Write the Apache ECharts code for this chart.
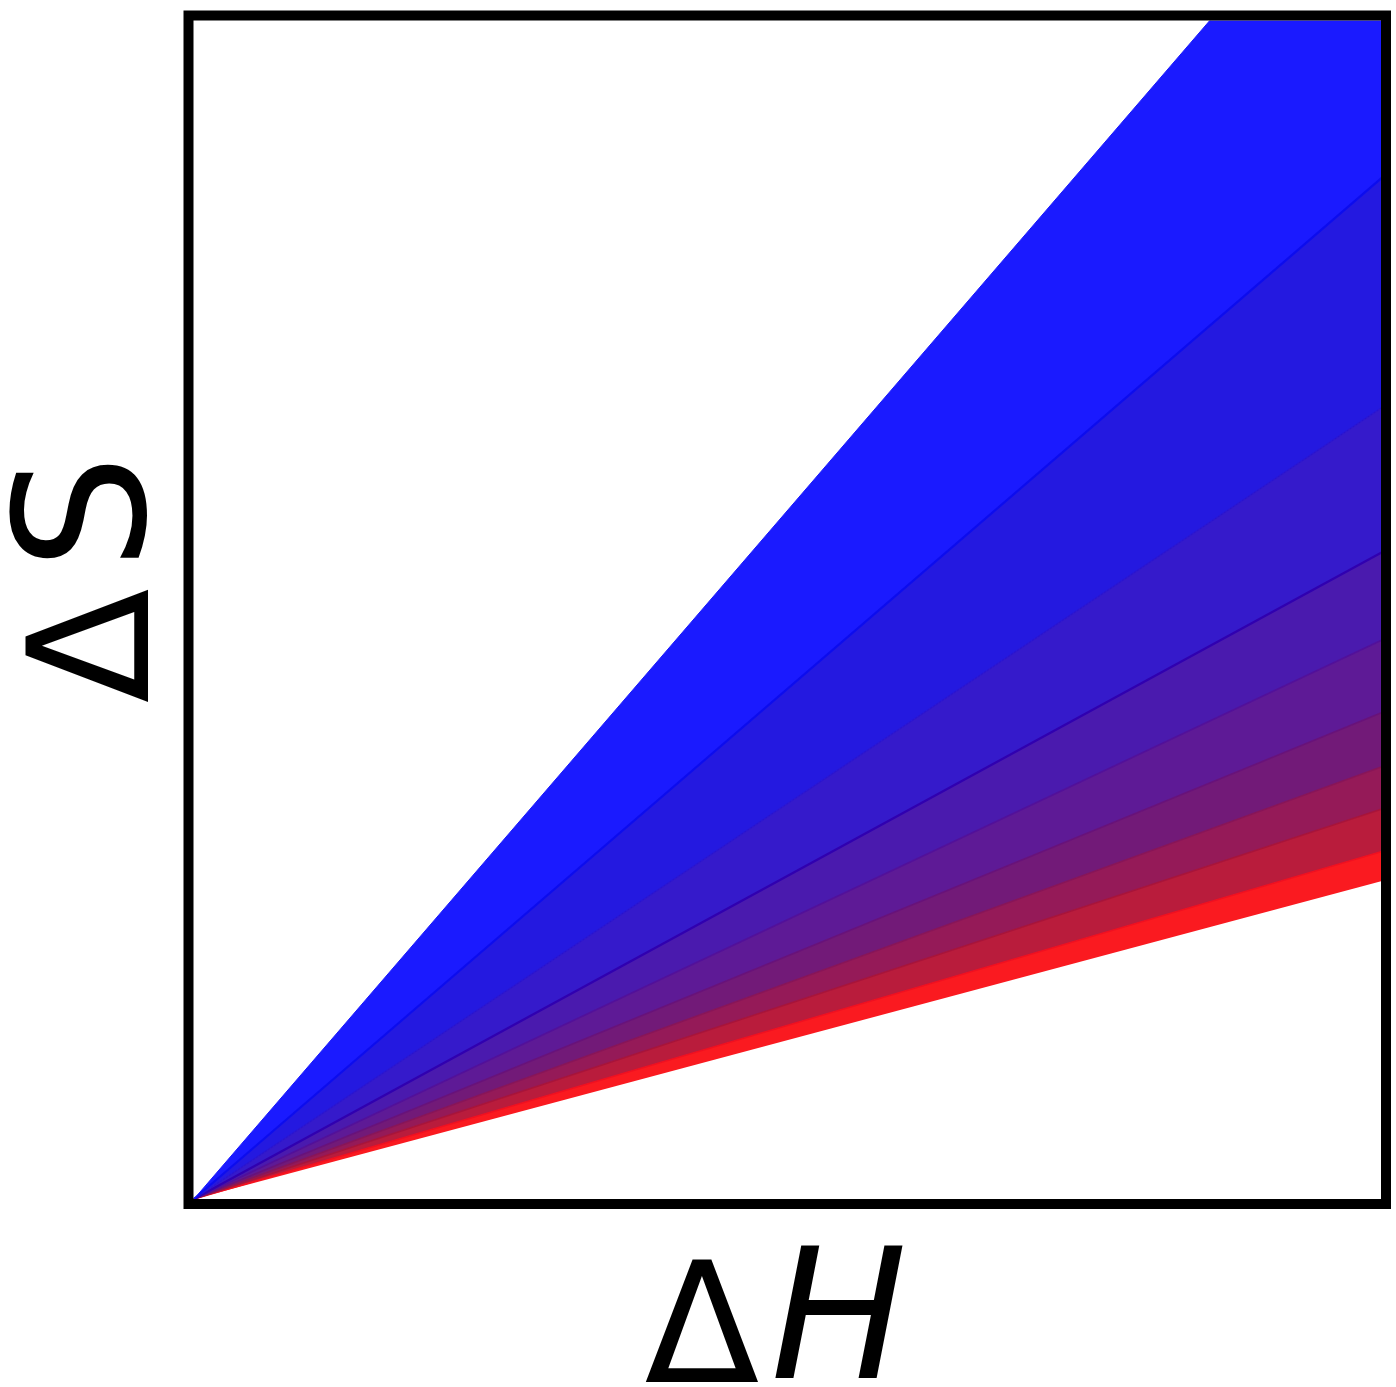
<!DOCTYPE html>
<html lang="en">
<head>
  <meta charset="UTF-8">
  <title>Delta S vs Delta H</title>
  <script src="https://cdn.jsdelivr.net/npm/echarts@6.0.0/dist/echarts.min.js"></script>
  <style>
    html, body { margin: 0; padding: 0; background: #fff; }
  </style>
</head>
<body>
  <div id="main" style="width: 1396px;height:1387px;"></div>
  <script type="text/javascript">
    // two ends of the dH axis
    var xPoints = ['0', '1'];
    // fan of lines through the origin, value of each line at the right edge (dH = 1)
    var edgeValues = [0.270, 0.295, 0.331, 0.367, 0.413, 0.4745, 0.549, 0.672, 0.867, 1.17];
    // fill colour of each band, bottom (red) to top (blue)
    var bandColors = ['#fa1a20', '#b91c3c', '#951a58', '#721a78', '#5e1a96', '#4a1aae', '#351acb', '#2419e0', '#1a1aff'];
    var edgeColors = ['#f01020', '#a8143a', '#881558', '#68127a', '#52109a', '#3000b0', '#2812d0', '#0c0cee', '#1a1aff'];
    var edgeWidths = [1.5, 1.5, 1.5, 1.5, 1.5, 2.2, 1.2, 2.2, 1];

    var myChart = echarts.init(document.getElementById('main'));

    var series = [];
    // base line, nothing filled below it
    series.push({
      type: 'line',
      stack: 'fan',
      data: [0, edgeValues[0]],
      symbol: 'none',
      lineStyle: { width: 0 },
      silent: true
    });
    for (var i = 1; i < edgeValues.length; i++) {
      series.push({
        type: 'line',
        stack: 'fan',
        data: [0, edgeValues[i] - edgeValues[i - 1]],
        symbol: 'none',
        lineStyle: { width: edgeWidths[i - 1], color: edgeColors[i - 1] },
        areaStyle: { color: bandColors[i - 1], opacity: 1 },
        silent: true
      });
    }

    var option = {
      animation: false,
      grid: { left: 194, top: 21, width: 1188, height: 1178, outerBoundsMode: 'none' },
      xAxis: {
        type: 'category',
        boundaryGap: false,
        data: xPoints,
        name: '{d|Δ}{h|H}',
        nameLocation: 'middle',
        nameGap: 41,
        nameTextStyle: {
          padding: [0, 24, 0, 0],
          rich: {
            d: { fontFamily: 'DejaVu Sans', fontSize: 168, color: '#000', verticalAlign: 'bottom', padding: [0, 11, 0, 0] },
            h: { fontFamily: 'DejaVu Sans', fontStyle: 'italic', fontSize: 182, color: '#000', verticalAlign: 'bottom' }
          }
        },
        axisLine: { show: false },
        axisTick: { show: false },
        axisLabel: { show: false },
        splitLine: { show: false }
      },
      yAxis: {
        type: 'value',
        min: 0,
        max: 1,
        name: '{d|Δ}{s|S}',
        nameLocation: 'middle',
        nameRotate: 90,
        nameGap: 6,
        nameTextStyle: {
          padding: [0, 0, 0, 62],
          rich: {
            d: { fontFamily: 'DejaVu Sans', fontSize: 168, color: '#000', verticalAlign: 'bottom', padding: [0, 18, 0, 0] },
            s: { fontFamily: 'DejaVu Sans', fontSize: 182, color: '#000', verticalAlign: 'bottom' }
          }
        },
        axisLine: { show: false },
        axisTick: { show: false },
        axisLabel: { show: false },
        splitLine: { show: false }
      },
      graphic: [{
        type: 'rect',
        shape: { x: 188.5, y: 15.5, width: 1197.5, height: 1188.5 },
        style: { fill: null, stroke: '#000', lineWidth: 10 },
        z: 100
      }],
      series: series
    };

    myChart.setOption(option);
  </script>
</body>
</html>
